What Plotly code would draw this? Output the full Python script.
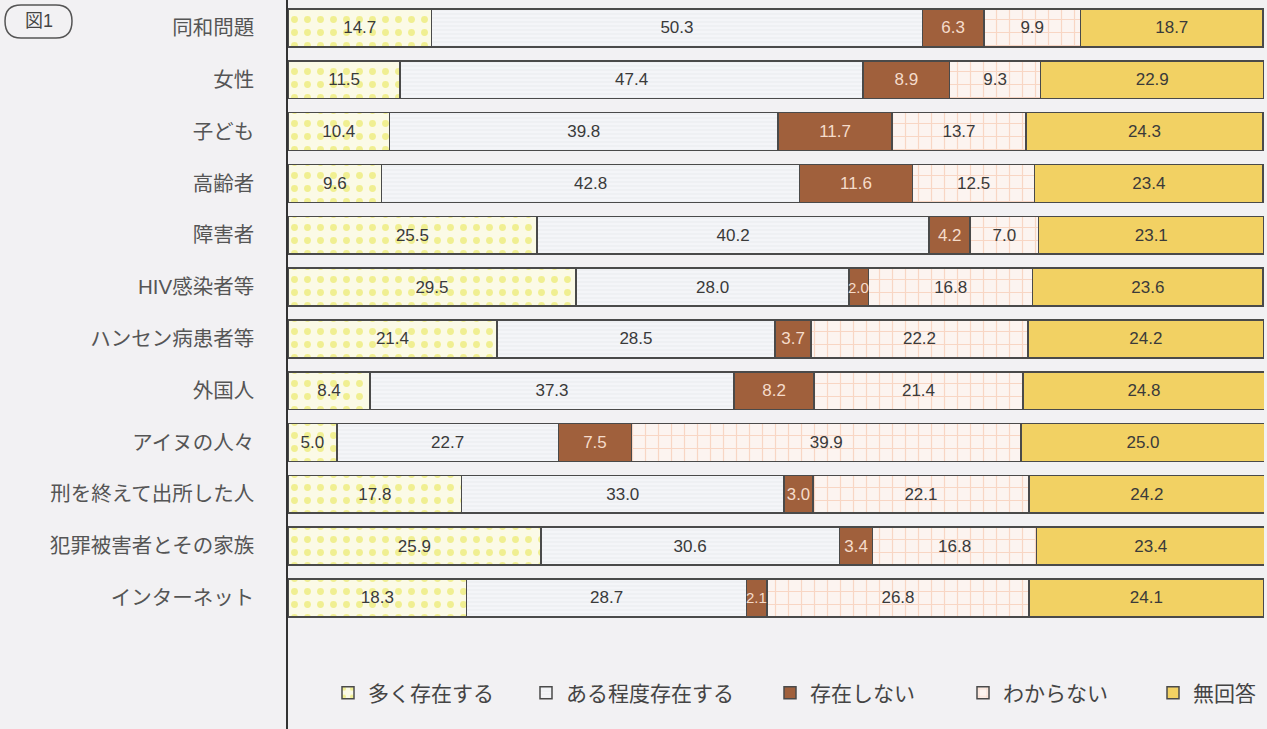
import plotly.graph_objects as go

categories = ["同和問題", "女性", "子ども", "高齢者", "障害者", "HIV感染者等", "ハンセン病患者等",
              "外国人", "アイヌの人々", "刑を終えて出所した人", "犯罪被害者とその家族", "インターネット"]
many = [14.7, 11.5, 10.4, 9.6, 25.5, 29.5, 21.4, 8.4, 5.0, 17.8, 25.9, 18.3]
some = [50.3, 47.4, 39.8, 42.8, 40.2, 28.0, 28.5, 37.3, 22.7, 33.0, 30.6, 28.7]
none_ = [6.3, 8.9, 11.7, 11.6, 4.2, 2.0, 3.7, 8.2, 7.5, 3.0, 3.4, 2.1]
unknown = [9.9, 9.3, 13.7, 12.5, 7.0, 16.8, 22.2, 21.4, 39.9, 22.1, 16.8, 26.8]
noans = [18.7, 22.9, 24.3, 23.4, 23.1, 23.6, 24.2, 24.8, 25.0, 24.2, 23.4, 24.1]
series_names = ["多く存在する", "ある程度存在する", "存在しない", "わからない", "無回答"]

FONT = "Liberation Sans, Arial, Noto Sans CJK JP"
BG = "#f2f1f3"
L, R, W, H = 288, 3, 1267, 729
PW = W - L - R

styles = [
    dict(color="#fbfae6", pattern=dict(shape=".", fgcolor="#e6e43c", bgcolor="#fbfae6", size=13, solidity=0.22), tc="#3a3a3a"),
    dict(color="#f4f5f8", pattern=dict(shape="-", fgcolor="#d9dae0", bgcolor="#f4f5f8", size=4, solidity=0.2), tc="#3a3a3a"),
    dict(color="#a0603c", pattern=None, tc="#f5dccb"),
    dict(color="#fcf4f0", pattern=dict(shape="+", fgcolor="#f4b898", bgcolor="#fcf4f0", size=13, solidity=0.18), tc="#3a3a3a"),
    dict(color="#f2d163", pattern=None, tc="#3a3a3a"),
]

def px(x, y):
    return (x - L) / PW, 1 - y / H

legend_px = [328, 526, 770, 963, 1153]
legend_keys = ["legend", "legend2", "legend3", "legend4", "legend5"]

fig = go.Figure()
cum = [0.0] * len(categories)
for i, (name, vals, st) in enumerate(zip(series_names, [many, some, none_, unknown, noans], styles)):
    marker = dict(color=st["color"], line=dict(color="#4a4a4a", width=1.5))
    if st["pattern"]:
        marker["pattern"] = st["pattern"]
    texts = [f"{v:.1f}" if v >= 2.5 else "" for v in vals]
    fig.add_trace(go.Bar(
        y=categories, x=vals, name=name, orientation="h", marker=marker,
        text=texts, textposition="inside", insidetextanchor="middle",
        textangle=0, textfont=dict(family=FONT, size=17, color=st["tc"]),
        hoverinfo="x+name", legend=legend_keys[i],
    ))
    for j, v in enumerate(vals):
        if v < 2.5:
            fig.add_annotation(x=cum[j] + v / 2, y=categories[j], text=f"{v:.1f}", showarrow=False,
                               font=dict(family="Liberation Sans Narrow, Liberation Sans", size=15, color=st["tc"]),
                               xanchor="center", yanchor="middle")
        cum[j] += v

# badge "図1"
x0, x1, y0, y1, r = 5, 72, 5, 38, 16
pts = [(x0 + r, y0), (x1 - r, y0), (x1, y0), (x1, y0 + r), (x1, y1), (x1 - r, y1),
       (x0 + r, y1), (x0, y1), (x0, y0 + r), (x0, y0), (x0 + r, y0)]
P = [px(*p) for p in pts]
path = (f"M {P[0][0]},{P[0][1]} L {P[1][0]},{P[1][1]} Q {P[2][0]},{P[2][1]} {P[3][0]},{P[3][1]} "
        f"Q {P[4][0]},{P[4][1]} {P[5][0]},{P[5][1]} L {P[6][0]},{P[6][1]} "
        f"Q {P[7][0]},{P[7][1]} {P[8][0]},{P[8][1]} Q {P[9][0]},{P[9][1]} {P[10][0]},{P[10][1]} Z")
fig.add_shape(type="path", path=path, xref="paper", yref="paper",
              line=dict(color="#555555", width=1.5), fillcolor="rgba(0,0,0,0)")
bx, by = px(39, 21)
fig.add_annotation(x=bx, y=by, xref="paper", yref="paper", text="図1", showarrow=False,
                   font=dict(family=FONT, size=18, color="#444444"), xanchor="center", yanchor="middle")

legends = {}
for key, lxp in zip(legend_keys, legend_px):
    lx, ly = px(lxp, 693)
    legends[key] = dict(orientation="h", x=lx, y=ly, xanchor="left", yanchor="middle",
                        font=dict(family=FONT, size=21, color="#444444"), bgcolor="rgba(0,0,0,0)")

fig.update_layout(
    width=W, height=H,
    margin=dict(l=L, r=R, t=0, b=0, autoexpand=False),
    paper_bgcolor=BG, plot_bgcolor=BG,
    barmode="stack", bargap=0.27,
    font=dict(family=FONT, color="#444444"),
    showlegend=True,
    xaxis=dict(range=[0, 100], visible=False, fixedrange=True),
    yaxis=dict(type="category", categoryorder="array", categoryarray=categories,
               range=[13.53, -0.54], showline=True, linecolor="#333333", linewidth=1.5,
               showgrid=False, zeroline=False, ticks="", ticklabelstandoff=28,
               tickfont=dict(family=FONT, size=20.5, color="#555555")),
    **legends,
)

fig.write_html("out.html")
